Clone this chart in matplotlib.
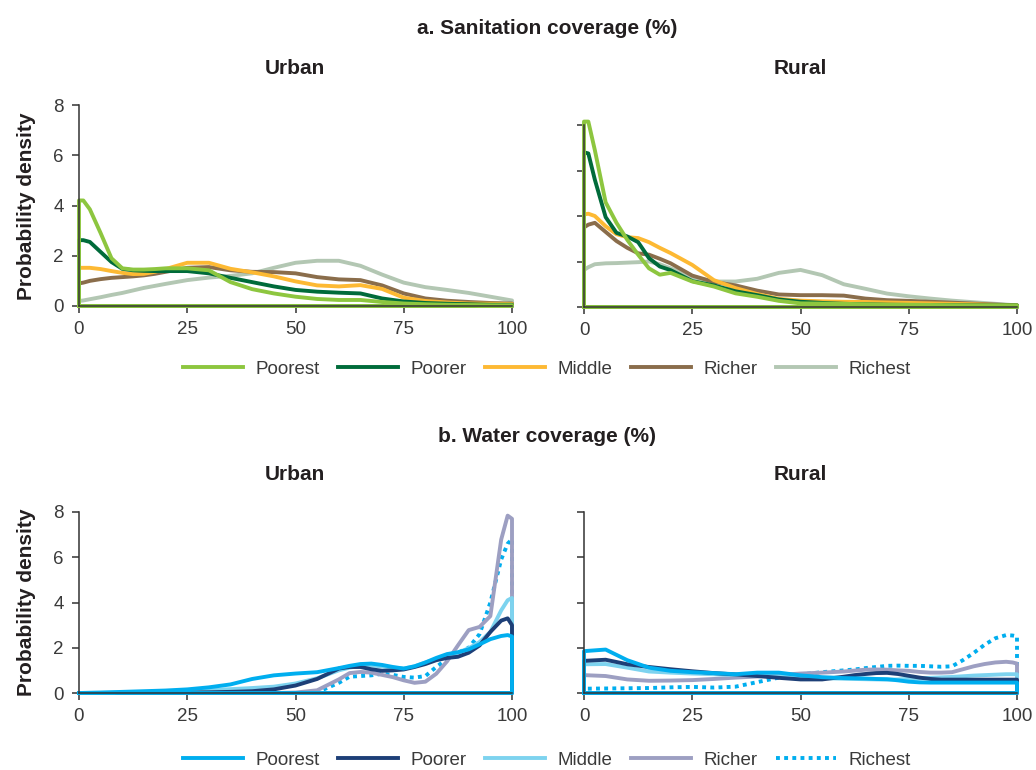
import numpy as np
import matplotlib.pyplot as plt

plt.rcParams['font.family'] = ['Liberation Sans', 'DejaVu Sans']

groups = ['Poorest', 'Poorer', 'Middle', 'Richer', 'Richest']
san_colors = ['#8dc63f', '#006b3a', '#fdb933', '#8a6d4b', '#b3c7b3']
water_colors = ['#00aeef', '#1d3f77', '#7dd3ef', '#9d9fc2', '#00aeef']
water_styles = ['-', '-', '-', '-', (0, (1, 1.1))]

# sanitation coverage (%) grid
san_x = [0, 1, 2.5, 5, 7.5, 10, 12.5, 15, 17.5, 20, 25, 30, 35, 40, 45, 50,
         55, 60, 65, 70, 75, 80, 85, 90, 95, 100]

san_urban_poorest = [4.2, 4.2, 3.85, 2.9, 1.9, 1.5, 1.45, 1.45, 1.47, 1.5, 1.5, 1.42, 0.95,
                     0.67, 0.5, 0.37, 0.28, 0.24, 0.24, 0.16, 0.1, 0.07, 0.05, 0.04, 0.03, 0.03]
san_urban_poorer = [2.62, 2.62, 2.55, 2.15, 1.75, 1.48, 1.42, 1.4, 1.39, 1.39, 1.39, 1.3, 1.12,
                    0.95, 0.78, 0.64, 0.57, 0.53, 0.5, 0.3, 0.18, 0.12, 0.09, 0.07, 0.05, 0.05]
san_urban_middle = [1.52, 1.52, 1.52, 1.47, 1.39, 1.32, 1.27, 1.28, 1.36, 1.47, 1.72, 1.72, 1.48,
                    1.34, 1.18, 0.98, 0.82, 0.78, 0.83, 0.68, 0.33, 0.2, 0.14, 0.1, 0.09, 0.08]
san_urban_richer = [0.9, 0.93, 1.0, 1.07, 1.12, 1.15, 1.18, 1.22, 1.28, 1.36, 1.52, 1.55, 1.42,
                    1.36, 1.35, 1.3, 1.15, 1.06, 1.03, 0.82, 0.5, 0.3, 0.21, 0.16, 0.12, 0.1]
san_urban_richest = [0.2, 0.22, 0.27, 0.35, 0.44, 0.52, 0.62, 0.72, 0.8, 0.88, 1.03, 1.13, 1.2,
                     1.3, 1.52, 1.72, 1.8, 1.8, 1.6, 1.25, 0.93, 0.75, 0.64, 0.52, 0.37, 0.22]

san_rural_poorest = [8.15, 8.15, 6.9, 4.6, 3.7, 2.95, 2.3, 1.7, 1.42, 1.5, 1.12, 0.9, 0.6,
                     0.45, 0.27, 0.16, 0.15, 0.14, 0.12, 0.1, 0.1, 0.09, 0.08, 0.07, 0.07, 0.07]
san_rural_poorer = [6.8, 6.75, 5.6, 3.95, 3.26, 3.1, 2.85, 2.15, 1.78, 1.62, 1.14, 0.95, 0.69,
                    0.52, 0.33, 0.23, 0.18, 0.14, 0.12, 0.1, 0.09, 0.08, 0.08, 0.07, 0.07, 0.07]
san_rural_middle = [4.07, 4.1, 4.0, 3.55, 3.2, 3.07, 3.03, 2.85, 2.6, 2.37, 1.85, 1.18, 0.83,
                    0.57, 0.36, 0.28, 0.25, 0.23, 0.22, 0.2, 0.18, 0.16, 0.14, 0.12, 0.09, 0.07]
san_rural_richer = [3.5, 3.62, 3.7, 3.3, 2.9, 2.6, 2.36, 2.3, 2.12, 1.92, 1.38, 1.1, 0.95,
                    0.72, 0.55, 0.52, 0.52, 0.5, 0.37, 0.3, 0.27, 0.23, 0.19, 0.15, 0.11, 0.07]
san_rural_richest = [1.63, 1.75, 1.88, 1.92, 1.93, 1.95, 1.97, 2.0, 1.88, 1.7, 1.32, 1.12, 1.12,
                     1.24, 1.5, 1.63, 1.4, 1.0, 0.8, 0.59, 0.47, 0.37, 0.28, 0.21, 0.14, 0.07]

# water coverage (%) grid
water_x = [0, 5, 10, 15, 20, 25, 30, 35, 40, 45, 50, 55, 60, 62.5, 65, 67.5, 70, 72.5,
           75, 77.5, 80, 82.5, 85, 87.5, 90, 92.5, 95, 97.5, 99, 100]

water_urban_poorest = [0, 0.02, 0.05, 0.08, 0.11, 0.16, 0.25, 0.38, 0.62, 0.78, 0.86, 0.92, 1.1,
                       1.2, 1.28, 1.3, 1.24, 1.15, 1.08, 1.18, 1.35, 1.55, 1.72, 1.8, 1.93,
                       2.15, 2.38, 2.52, 2.56, 2.5]
water_urban_poorer = [0, 0, 0, 0.01, 0.01, 0.02, 0.03, 0.05, 0.08, 0.16, 0.33, 0.62, 1.08,
                      1.15, 1.15, 1.05, 0.98, 1.0, 1.04, 1.15, 1.28, 1.45, 1.55, 1.6, 1.78,
                      2.1, 2.7, 3.2, 3.3, 3.0]
water_urban_middle = [0, 0.01, 0.02, 0.04, 0.06, 0.1, 0.13, 0.17, 0.22, 0.28, 0.42, 0.65, 1.0,
                      1.12, 1.2, 1.22, 1.17, 1.12, 1.08, 1.18, 1.35, 1.5, 1.62, 1.78, 1.98,
                      2.25, 2.7, 3.65, 4.1, 4.2]
water_urban_richer = [0, 0, 0, 0, 0, 0, 0, 0, 0, 0, 0.02, 0.12, 0.6, 0.88, 0.93, 0.9, 0.8,
                      0.7, 0.56, 0.45, 0.5, 0.85, 1.4, 2.1, 2.78, 2.92, 3.4, 6.78, 7.84, 7.7]
water_urban_richest = [0, 0, 0, 0, 0, 0, 0, 0, 0, 0, 0, 0.03, 0.45, 0.72, 0.75, 0.78, 0.85,
                       0.8, 0.71, 0.68, 0.75, 1.15, 1.5, 1.78, 2.0, 2.6, 4.0, 5.9, 6.6, 6.8]

water_rural_poorest = [1.85, 1.92, 1.45, 1.12, 0.98, 0.92, 0.88, 0.83, 0.9, 0.9, 0.78, 0.7,
                       0.66, 0.65, 0.64, 0.62, 0.61, 0.56, 0.5, 0.47, 0.46, 0.46, 0.46, 0.46,
                       0.46, 0.46, 0.46, 0.46, 0.46, 0.46]
water_rural_poorer = [1.42, 1.47, 1.27, 1.15, 1.05, 0.96, 0.88, 0.82, 0.75, 0.67, 0.6, 0.6,
                      0.72, 0.79, 0.84, 0.88, 0.89, 0.84, 0.76, 0.68, 0.62, 0.59, 0.59, 0.59,
                      0.59, 0.59, 0.59, 0.59, 0.59, 0.59]
water_rural_middle = [1.27, 1.28, 1.12, 0.95, 0.9, 0.86, 0.83, 0.8, 0.77, 0.73, 0.7, 0.66,
                      0.63, 0.62, 0.61, 0.6, 0.59, 0.6, 0.62, 0.65, 0.67, 0.69, 0.71, 0.74,
                      0.77, 0.79, 0.81, 0.83, 0.83, 0.83]
water_rural_richer = [0.79, 0.75, 0.6, 0.54, 0.55, 0.57, 0.62, 0.68, 0.73, 0.8, 0.86, 0.9,
                      0.95, 0.99, 1.03, 1.04, 1.03, 1.0, 0.98, 0.93, 0.9, 0.9, 0.92, 1.05,
                      1.18, 1.28, 1.35, 1.38, 1.35, 1.3]
water_rural_richest = [0.19, 0.2, 0.21, 0.22, 0.25, 0.27, 0.24, 0.28, 0.48, 0.68, 0.82, 0.92,
                       1.0, 1.04, 1.1, 1.15, 1.2, 1.21, 1.2, 1.2, 1.18, 1.16, 1.18, 1.45,
                       1.77, 2.13, 2.42, 2.56, 2.54, 2.5]

xticks = [0, 25, 50, 75, 100]
yticks = [0, 2, 4, 6, 8]

W, H = 1036, 770
fig = plt.figure(figsize=(W / 100, H / 100), dpi=100)


def px_axes(left, top, right, bottom):
    return fig.add_axes([left / W, 1 - bottom / H, (right - left) / W, (bottom - top) / H])


def draw_panel(ax, x, series, colors, styles, show_ylabels):
    # draw Richest first so Poorest ends on top
    for y, c, ls, name in reversed(list(zip(series, colors, styles, groups))):
        xs = [0] + list(x) + [100, 0]
        ys = [0] + list(y) + [0, 0]
        ax.plot(xs, ys, color=c, lw=2.8, ls=ls, clip_on=False,
                solid_joinstyle='round', label=name)
    ax.set_xlim(0, 100)
    ax.set_ylim(0, 8)
    ax.set_xticks(xticks)
    ax.set_yticks(yticks)
    if not show_ylabels:
        ax.set_yticklabels([])
    for s in ['top', 'right']:
        ax.spines[s].set_visible(False)
    for s in ['left', 'bottom']:
        ax.spines[s].set_color('#333333')
        ax.spines[s].set_linewidth(1.1)
    ax.tick_params(direction='out', length=5, width=1.1, color='#333333',
                   labelsize=13.5, labelcolor='#3a3a3a', pad=6)


ax_su = px_axes(79, 105, 512, 306)
ax_sr = px_axes(584, 125, 1017, 307)
ax_wu = px_axes(79, 512, 512, 693)
ax_wr = px_axes(584, 512, 1017, 693)

draw_panel(ax_su, san_x, [san_urban_poorest, san_urban_poorer, san_urban_middle,
                          san_urban_richer, san_urban_richest], san_colors, ['-'] * 5, True)
draw_panel(ax_sr, san_x, [san_rural_poorest, san_rural_poorer, san_rural_middle,
                          san_rural_richer, san_rural_richest], san_colors, ['-'] * 5, False)
draw_panel(ax_wu, water_x, [water_urban_poorest, water_urban_poorer, water_urban_middle,
                            water_urban_richer, water_urban_richest], water_colors, water_styles, True)
draw_panel(ax_wr, water_x, [water_rural_poorest, water_rural_poorer, water_rural_middle,
                            water_rural_richer, water_rural_richest], water_colors, water_styles, False)

title_kw = dict(ha='center', va='center', fontsize=15, fontweight='bold', color='#231f20')
fig.text(547 / W, 1 - 28 / H, 'a. Sanitation coverage (%)', **title_kw)
fig.text(295 / W, 1 - 68 / H, 'Urban', **title_kw)
fig.text(800 / W, 1 - 68 / H, 'Rural', **title_kw)
fig.text(547 / W, 1 - 436 / H, 'b. Water coverage (%)', **title_kw)
fig.text(295 / W, 1 - 474 / H, 'Urban', **title_kw)
fig.text(800 / W, 1 - 474 / H, 'Rural', **title_kw)

fig.text(27 / W, 1 - 206 / H, 'Probability density', rotation=90, **title_kw)
fig.text(27 / W, 1 - 602 / H, 'Probability density', rotation=90, **title_kw)

for ax, yc in [(ax_su, 369), (ax_wu, 760)]:
    h, l = ax.get_legend_handles_labels()
    fig.legend(h[::-1], l[::-1], loc='center', bbox_to_anchor=(547 / W, 1 - yc / H),
               ncol=5, frameon=False, fontsize=13.5, handlelength=3.2,
               handletextpad=0.65, columnspacing=1.0, labelcolor='#3a3a3a')

fig.savefig('out.png', dpi=100)
